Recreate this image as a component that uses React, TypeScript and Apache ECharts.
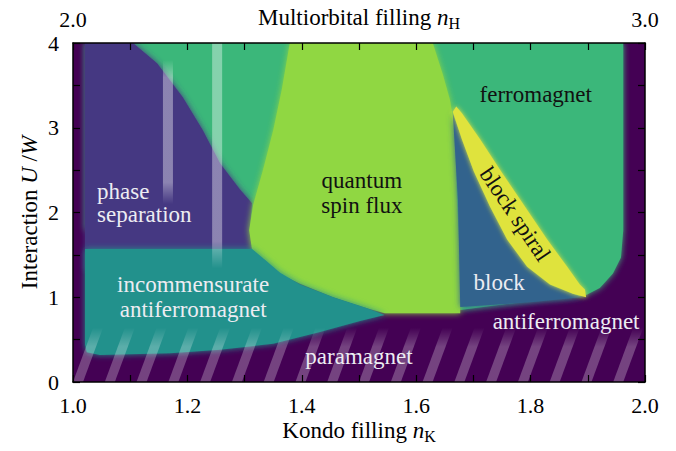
import React, { useEffect, useRef } from 'react';
import * as echarts from 'echarts';

const FONT = "'Liberation Serif', 'Times New Roman', Times, serif";

// ---- tick labels ----
const kondoTickLabels = ['1.0', '1.2', '1.4', '1.6', '1.8', '2.0'];
const multiorbitalTickLabels = ['2.0', '3.0'];
const interactionTickLabels = ['0', '1', '2', '3', '4'];

// ---- phase regions (Kondo filling, U/W) ----
const ferromagnet = [
  [1.021, 4], [1.962, 4], [1.962, 1.79], [1.958, 1.47], [1.944, 1.28], [1.921, 1.11],
  [1.898, 1.03], [1.86, 0.99], [1.816, 0.97], [1.677, 0.85], [1.668, 2.15], [1.397, 1.79],
  [1.021, 1.79],
];
const phaseSeparation = [
  [1.021, 4], [1.105, 4], [1.147, 3.76], [1.192, 3.36], [1.227, 2.97], [1.257, 2.58],
  [1.292, 2.27], [1.313, 2.11], [1.309, 1.79], [1.32, 1.53], [1.32, 1.32], [1.021, 1.32],
];
const quantumSpinFlux = [
  [1.379, 4], [1.365, 3.45], [1.35, 2.97], [1.332, 2.5], [1.315, 2.09], [1.308, 1.79],
  [1.313, 1.56], [1.336, 1.42], [1.362, 1.27], [1.397, 1.16], [1.455, 1.0], [1.514, 0.87],
  [1.545, 0.81], [1.677, 0.81], [1.677, 1.44], [1.671, 2.15], [1.668, 2.97], [1.659, 3.33],
  [1.647, 3.62], [1.629, 4],
];
const block = [
  [1.664, 3.17], [1.673, 2.15], [1.677, 0.885], [1.804, 0.944], [1.892, 1.003], [1.874, 1.038],
  [1.834, 1.145], [1.794, 1.357], [1.759, 1.676], [1.729, 2.065], [1.701, 2.478], [1.68, 2.86],
];
const blockSpiral = [
  [1.664, 3.19], [1.68, 2.86], [1.701, 2.48], [1.729, 2.07], [1.759, 1.68], [1.794, 1.36],
  [1.834, 1.15], [1.874, 1.04], [1.897, 1.0], [1.895, 1.09], [1.886, 1.15], [1.864, 1.36],
  [1.829, 1.68], [1.79, 2.07], [1.75, 2.47], [1.712, 2.86], [1.68, 3.17], [1.67, 3.25],
];
const incommensurateAFM = [
  [1.021, 1.57], [1.313, 1.57], [1.336, 1.44], [1.362, 1.29], [1.397, 1.15], [1.455, 1.0],
  [1.514, 0.87], [1.545, 0.79], [1.502, 0.72], [1.432, 0.59], [1.35, 0.45], [1.257, 0.38],
  [1.17, 0.34], [1.047, 0.32], [1.024, 0.35], [1.021, 0.44],
];

// hatched paramagnet stripes: bottom-left Kondo filling of each stripe
const stripeStarts = [
  1.0, 1.0556, 1.1111, 1.1667, 1.2222, 1.2778, 1.3333, 1.3889, 1.4444, 1.5,
  1.5556, 1.6111, 1.6667, 1.7222, 1.7778, 1.8333, 1.8889, 1.9444,
];
const stripeTop = 0.64;

// translucent vertical markers: [Kondo filling, U/W bottom, U/W top]
const markerBars = [
  [1.166, 2.1, 3.8],
  [1.252, 1.34, 4.0],
];

// ---- labels ----
const labelTexts = [
  'ferromagnet', 'quantum\nspin flux', 'phase\nseparation', 'incommensurate\nantiferromagnet',
  'block', 'antiferromagnet', 'paramagnet', 'block spiral',
];
const labelPositions = [
  [1.809, 3.39], [1.505, 2.23], [1.042, 2.11], [1.21, 1.0],
  [1.745, 1.17], [1.862, 0.71], [1.5, 0.3], [1.773, 1.98],
];

const C = {
  bg: '#440154',
  ferro: '#3bb77a',
  ps: '#453882',
  qsf: '#90d743',
  block: '#33638d',
  spiral: '#dfe33e',
  teal: '#21918c',
};

const labelStyles = [
  { fill: '#111', align: 'center', lh: 24, rot: 0 },
  { fill: '#111', align: 'center', lh: 25, rot: 0 },
  { fill: '#ececf2', align: 'left', lh: 23, rot: 0 },
  { fill: '#ececf2', align: 'center', lh: 25, rot: 0 },
  { fill: '#ececf2', align: 'center', lh: 24, rot: 0 },
  { fill: '#ececf2', align: 'center', lh: 24, rot: 0 },
  { fill: '#ececf2', align: 'center', lh: 24, rot: 0 },
  { fill: '#111', align: 'center', lh: 24, rot: (-56 * Math.PI) / 180 },
];

function regionSeries(pts: number[][], color: string, blur: number) {
  return {
    type: 'custom',
    silent: true,
    clip: true,
    data: [[pts[0][0], pts[0][1]]],
    renderItem: (_p: any, api: any) => ({
      type: 'polygon',
      shape: { points: pts.map((p) => api.coord(p)) },
      style: { fill: color, shadowBlur: blur, shadowColor: color },
    }),
  };
}

const richName = {
  a: { fontFamily: FONT, fontSize: 23, color: '#000', lineHeight: 28 },
  i: { fontFamily: FONT, fontSize: 23, color: '#000', fontStyle: 'italic', lineHeight: 28 },
  s: { fontFamily: FONT, fontSize: 16, color: '#000', lineHeight: 14, verticalAlign: 'bottom' },
};

const axisCommon = {
  type: 'value',
  z: 10,
  axisLine: { show: true, onZero: false, lineStyle: { color: '#000', width: 1.5 } },
  axisTick: { show: true, inside: true, length: 7, lineStyle: { color: '#000', width: 1.2 } },
  splitLine: { show: false },
  minorTick: { show: false },
  nameMoveOverlap: false,
};

export default function App() {
  const ref = useRef<HTMLDivElement>(null);
  useEffect(() => {
    if (!ref.current) return;
    const chart = echarts.init(ref.current, undefined, { renderer: 'svg' });
    const stripeFill = new echarts.graphic.LinearGradient(0, 0, 0, 1, [
      { offset: 0, color: 'rgba(255,255,255,0)' },
      { offset: 0.35, color: 'rgba(255,255,255,0.26)' },
      { offset: 1, color: 'rgba(255,255,255,0.26)' },
    ]);
    const barFills = [
      new echarts.graphic.LinearGradient(0, 0, 0, 1, [
        { offset: 0, color: 'rgba(255,255,255,0)' },
        { offset: 0.12, color: 'rgba(255,255,255,0.38)' },
        { offset: 0.85, color: 'rgba(255,255,255,0.38)' },
        { offset: 1, color: 'rgba(255,255,255,0)' },
      ]),
      new echarts.graphic.LinearGradient(0, 0, 0, 1, [
        { offset: 0, color: 'rgba(255,255,255,0.38)' },
        { offset: 0.88, color: 'rgba(255,255,255,0.38)' },
        { offset: 1, color: 'rgba(255,255,255,0)' },
      ]),
    ];

    const option: any = {
      animation: false,
      grid: {
        left: 73, right: 31, top: 43, bottom: 69,
        show: true, backgroundColor: C.bg, borderWidth: 0,
        outerBoundsMode: 'none',
      },
      xAxis: [
        {
          ...axisCommon,
          position: 'bottom',
          min: 1, max: 2, interval: 0.1,
          axisLabel: {
            margin: 12, fontSize: 22, fontFamily: FONT, color: '#000',
            showMinLabel: true, showMaxLabel: true,
            formatter: (v: number) => {
              const s = v.toFixed(1);
              return kondoTickLabels.includes(s) ? s : '';
            },
          },
          name: '{a|Kondo filling }{i|n}{s|K}',
          nameLocation: 'middle',
          nameGap: 34,
          nameTextStyle: { rich: richName },
        },
        {
          ...axisCommon,
          position: 'top',
          min: 2, max: 3, interval: 0.1,
          axisLabel: {
            margin: 13, fontSize: 22, fontFamily: FONT, color: '#000',
            showMinLabel: true, showMaxLabel: true,
            formatter: (v: number) => {
              const s = v.toFixed(1);
              return multiorbitalTickLabels.includes(s) ? s : '';
            },
          },
          name: '{a|Multiorbital filling }{i|n}{s|H}',
          nameLocation: 'middle',
          nameGap: 12,
          nameTextStyle: { rich: richName },
        },
      ],
      yAxis: [
        {
          ...axisCommon,
          position: 'left',
          min: 0, max: 4, interval: 0.5,
          axisLabel: {
            margin: 14, fontSize: 22, fontFamily: FONT, color: '#000',
            showMinLabel: true, showMaxLabel: true,
            formatter: (v: number) => {
              const s = String(Math.round(v * 10) / 10);
              return interactionTickLabels.includes(s) ? s : '';
            },
          },
          name: '{a|Interaction }{i|U}{a| /}{i|W}',
          nameLocation: 'middle',
          nameGap: 30,
          nameTextStyle: { rich: richName },
        },
        {
          ...axisCommon,
          position: 'right',
          min: 0, max: 4, interval: 0.5,
          axisLabel: { show: false },
        },
      ],
      series: [
        regionSeries(ferromagnet, C.ferro, 6),
        regionSeries(phaseSeparation, C.ps, 6),
        regionSeries(quantumSpinFlux, C.qsf, 6),
        regionSeries(block, C.block, 6),
        regionSeries(blockSpiral, C.spiral, 5),
        regionSeries(incommensurateAFM, C.teal, 6),
        {
          type: 'custom',
          silent: true,
          clip: true,
          data: stripeStarts.map((x) => [x, 0]),
          renderItem: (_p: any, api: any) => {
            const x0 = api.value(0);
            const w = 0.0175;
            const dx = 0.035;
            const pts = [
              api.coord([x0, 0]),
              api.coord([x0 + w, 0]),
              api.coord([x0 + w + dx, stripeTop]),
              api.coord([x0 + dx, stripeTop]),
            ];
            return { type: 'polygon', shape: { points: pts }, style: { fill: stripeFill } };
          },
        },
        {
          type: 'custom',
          silent: true,
          clip: true,
          data: markerBars,
          renderItem: (p: any, api: any) => {
            const x = api.value(0);
            const b = api.coord([x, api.value(1)]);
            const t = api.coord([x, api.value(2)]);
            return {
              type: 'rect',
              shape: { x: t[0] - 5, y: t[1], width: 10, height: b[1] - t[1] },
              style: { fill: barFills[p.dataIndex] },
            };
          },
        },
        {
          type: 'custom',
          silent: true,
          clip: false,
          data: labelPositions,
          renderItem: (p: any, api: any) => {
            const c = api.coord([api.value(0), api.value(1)]);
            const st = labelStyles[p.dataIndex];
            return {
              type: 'text',
              x: c[0],
              y: c[1],
              rotation: st.rot,
              style: {
                text: labelTexts[p.dataIndex],
                fill: st.fill,
                fontFamily: FONT,
                fontSize: 23,
                lineHeight: st.lh,
                align: st.align,
                verticalAlign: 'middle',
              },
            };
          },
        },
      ],
    };
    chart.setOption(option);
    return () => chart.dispose();
  }, []);
  return (
    <div
      ref={ref}
      style={{ position: 'fixed', left: 0, top: 0, width: 676, height: 451, background: '#fff' }}
    />
  );
}
